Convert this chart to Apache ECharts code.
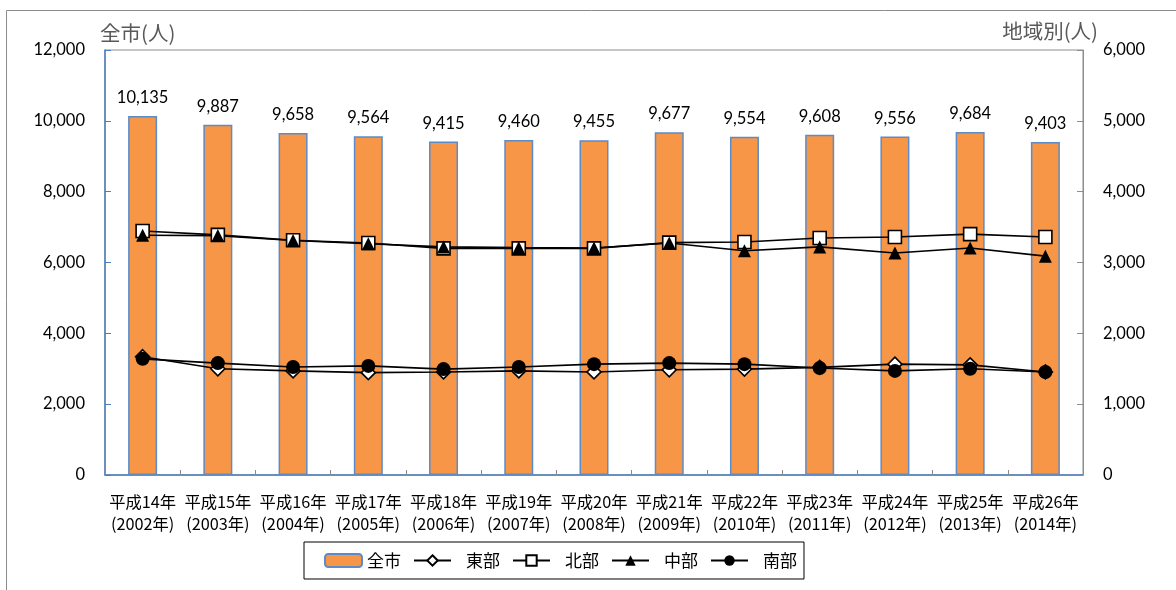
<!DOCTYPE html>
<html>
<head>
<meta charset="utf-8">
<script src="https://cdn.jsdelivr.net/npm/echarts@6/dist/echarts.min.js"></script>
<style>
  html, body { margin: 0; padding: 0; background: #fff; }
  #chart { width: 1176px; height: 590px; }
</style>
</head>
<body>
<div id="chart"></div>
<script>
// Year labels (Japanese era + western year)
const categories = [
  '平成14年\n(2002年)', '平成15年\n(2003年)', '平成16年\n(2004年)', '平成17年\n(2005年)',
  '平成18年\n(2006年)', '平成19年\n(2007年)', '平成20年\n(2008年)', '平成21年\n(2009年)',
  '平成22年\n(2010年)', '平成23年\n(2011年)', '平成24年\n(2012年)', '平成25年\n(2013年)',
  '平成26年\n(2014年)'
];

// City total (left axis)
const cityTotal = [10135, 9887, 9658, 9564, 9415, 9460, 9455, 9677, 9554, 9608, 9556, 9684, 9403];

// Regional values (right axis)
const eastRegion   = [1670, 1500, 1470, 1445, 1455, 1470, 1455, 1485, 1495, 1520, 1565, 1555, 1455];
const northRegion  = [3445, 3390, 3315, 3275, 3200, 3200, 3200, 3280, 3290, 3345, 3360, 3400, 3360];
const centerRegion = [3385, 3380, 3310, 3265, 3220, 3210, 3205, 3275, 3165, 3220, 3135, 3205, 3090];
const southRegion  = [1640, 1580, 1525, 1540, 1495, 1525, 1565, 1580, 1565, 1510, 1470, 1500, 1455];

const leftTicks = { min: 0, max: 12000, interval: 2000 };
const rightTicks = { min: 0, max: 6000, interval: 1000 };

const seriesNames = ['全市', '東部', '北部', '中部', '南部'];

const numFont = 'Lato, "Noto Sans CJK JP", sans-serif';
const cjkFont = '"Noto Sans CJK JP", Lato, sans-serif';
const fmt = v => Number(v).toLocaleString('en-US');

const chart = echarts.init(document.getElementById('chart'), null, { renderer: 'canvas' });

function lineSeries(name, data, symbol, filled, size) {
  return {
    name: name,
    type: 'line',
    yAxisIndex: 1,
    data: data,
    symbol: symbol,
    symbolSize: size,
    showAllSymbol: true,
    lineStyle: { color: '#000', width: 1.6 },
    itemStyle: {
      color: filled ? '#000' : '#fff',
      borderColor: '#000',
      borderWidth: filled ? 0 : 1.6
    },
    emphasis: { disabled: true },
    z: 3
  };
}

// legend entries: line entries get extra room between icon and text
const legendData = seriesNames.map((n, i) => i === 0
  ? { name: n }
  : { name: n, textStyle: { padding: [0, 0, 0, 10] } });

chart.setOption({
  animation: false,
  backgroundColor: '#fff',
  textStyle: { fontFamily: cjkFont },
  graphic: [{
    type: 'rect',
    shape: { x: 6.5, y: 10.5, width: 1200, height: 620 },
    style: { fill: 'none', stroke: '#8c8c8c', lineWidth: 1 },
    silent: true,
    z: -10
  }],
  grid: {
    left: 105, right: 93, top: 50, bottom: 115,
    show: true,
    borderColor: '#8c8c8c',
    borderWidth: 1,
    containLabel: false
  },
  legend: {
    data: legendData,
    left: 304,
    top: 542,
    borderColor: '#000',
    borderWidth: 1,
    padding: [10, 7, 10, 20],
    itemGap: 12,
    itemWidth: 37,
    itemHeight: 13,
    textStyle: { fontSize: 17, color: '#000', fontFamily: cjkFont },
    selectedMode: false
  },
  xAxis: {
    type: 'category',
    data: categories,
    boundaryGap: true,
    axisLine: { lineStyle: { color: '#4a7ebb', width: 1.5 } },
    axisTick: { show: true, inside: true, length: 5, lineStyle: { color: '#8c8c8c' } },
    axisLabel: {
      interval: 0,
      margin: 16,
      fontSize: 16.3,
      lineHeight: 22,
      color: '#000',
      fontFamily: cjkFont
    }
  },
  yAxis: [{
    type: 'value',
    min: leftTicks.min, max: leftTicks.max, interval: leftTicks.interval,
    name: '全市(人)',
    nameLocation: 'end',
    nameGap: 7,
    nameTextStyle: { fontSize: 20.5, color: '#595959', align: 'left', padding: [0, 0, 0, -5], fontFamily: cjkFont },
    axisLine: { show: true, lineStyle: { color: '#4a7ebb', width: 1.5 } },
    axisTick: { show: true, inside: true, length: 6, lineStyle: { color: '#4a7ebb' } },
    splitLine: { show: false },
    axisLabel: { margin: 20, fontSize: 16.5, color: '#000', fontFamily: numFont, formatter: fmt }
  }, {
    type: 'value',
    min: rightTicks.min, max: rightTicks.max, interval: rightTicks.interval,
    name: '地域別(人)',
    nameLocation: 'end',
    nameGap: 7,
    nameTextStyle: { fontSize: 20.5, color: '#595959', align: 'right', padding: [0, -15, 0, 0], fontFamily: cjkFont },
    axisLine: { show: true, lineStyle: { color: '#8c8c8c', width: 1 } },
    axisTick: { show: true, inside: true, length: 6, lineStyle: { color: '#8c8c8c' } },
    splitLine: { show: false },
    axisLabel: { margin: 20, fontSize: 16.5, color: '#000', fontFamily: numFont, formatter: fmt }
  }],
  series: [{
    name: '全市',
    type: 'bar',
    yAxisIndex: 0,
    data: cityTotal,
    barWidth: 29,
    itemStyle: { color: '#f79646', borderColor: '#5b8bc9', borderWidth: 1.5 },
    label: {
      show: true,
      position: 'top',
      distance: 10,
      fontSize: 16.5,
      color: '#000',
      fontFamily: numFont,
      formatter: p => fmt(p.value)
    },
    emphasis: { disabled: true },
    z: 2
  },
    lineSeries('東部', eastRegion, 'diamond', false, 14),
    lineSeries('北部', northRegion, 'rect', false, 13),
    lineSeries('中部', centerRegion, 'triangle', true, 13),
    lineSeries('南部', southRegion, 'circle', true, 14)
  ]
});
</script>
</body>
</html>
